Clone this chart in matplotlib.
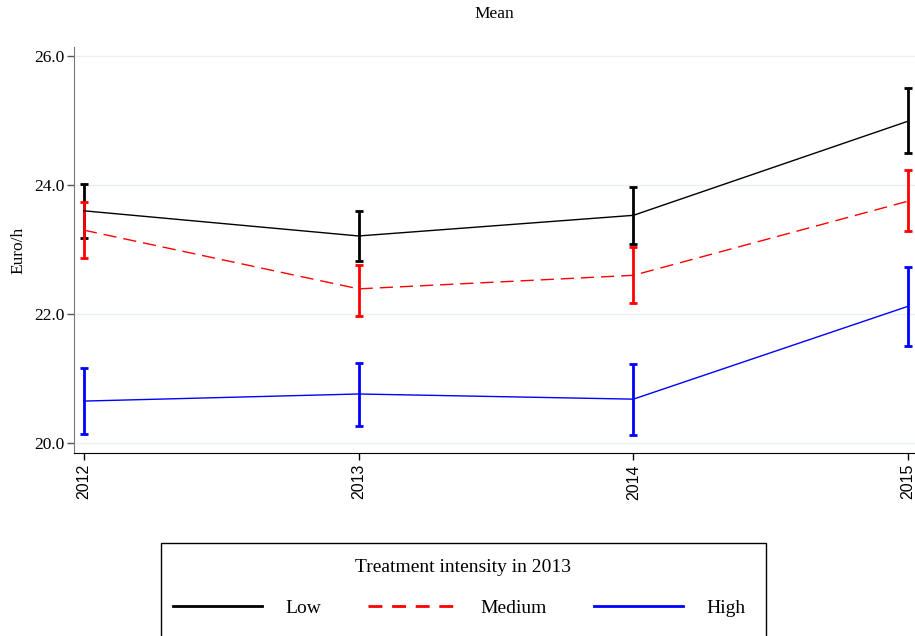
import matplotlib.pyplot as plt
from matplotlib.patches import Rectangle
from matplotlib.lines import Line2D
import numpy as np

years = [2012, 2013, 2014, 2015]

low_mean = [23.60, 23.21, 23.53, 24.99]
low_lo = [23.18, 22.82, 23.09, 24.50]
low_hi = [24.01, 23.60, 23.97, 25.50]

med_mean = [23.30, 22.39, 22.60, 23.75]
med_lo = [22.87, 21.97, 22.17, 23.29]
med_hi = [23.73, 22.76, 23.04, 24.23]

high_mean = [20.65, 20.76, 20.68, 22.12]
high_lo = [20.14, 20.26, 20.12, 21.50]
high_hi = [21.16, 21.24, 21.22, 22.73]

series = [
    ("Low", low_mean, low_lo, low_hi, "black", "-"),
    ("Medium", med_mean, med_lo, med_hi, "red", (0, (9.5, 5))),
    ("High", high_mean, high_lo, high_hi, "blue", "-"),
]

serif = "Liberation Serif"
W, H = 915, 636
fig = plt.figure(figsize=(W / 100, H / 100), dpi=100)
ax = fig.add_axes([74 / W, 1 - 453 / H, (915 - 74) / W, (453 - 47) / H])

for name, m, lo, hi, col, ls in series:
    m = np.array(m)
    yerr = [m - np.array(lo), np.array(hi) - m]
    ax.errorbar(years, m, yerr=yerr, fmt="none", ecolor=col, elinewidth=2,
                capsize=3, capthick=2, zorder=3)
    ax.plot(years, m, color=col, linestyle=ls, linewidth=1, zorder=4)

ax.set_xlim(2012 - 0.036, 2015 + 0.025)
ax.set_ylim(19.845, 26.14)
ax.set_yticks([20, 22, 24, 26])
ax.set_yticklabels(["20.0", "22.0", "24.0", "26.0"], fontfamily=serif, fontsize=12.5)
ax.set_xticks(years)
ax.set_xticklabels([str(y) for y in years], rotation=90, fontfamily="Liberation Sans",
                   fontsize=11.5)
ax.grid(axis="y", color="#eaf0f3", linewidth=1)
ax.set_axisbelow(True)
for s in ["top", "right"]:
    ax.spines[s].set_visible(False)
ax.spines["left"].set_color("#777777")
ax.spines["bottom"].set_color("black")
ax.tick_params(axis="y", length=5, width=1, color="#555555", pad=2)
ax.tick_params(axis="x", length=5, width=1, pad=3)

fig.text(18 / W, 1 - 250 / H, "Euro/h", rotation=90, ha="center", va="center",
         fontfamily=serif, fontsize=12.5)
fig.text(494 / W, 1 - 14 / H, "Mean", ha="center", va="center",
         fontfamily=serif, fontsize=12.5)

# legend box (cut off at the bottom like the original)
fig.patches.append(Rectangle((161 / W, -0.05), (766 - 161) / W, 1 - 543 / H + 0.05,
                             transform=fig.transFigure, fill=False,
                             edgecolor="black", linewidth=1))
fig.text(463 / W, 1 - 567 / H, "Treatment intensity in 2013", ha="center",
         va="center", fontfamily=serif, fontsize=14)
leg_styles = ["-", (0, (5, 3.5)), "-"]
handles = [Line2D([], [], color=s[4], linestyle=ls, linewidth=2)
           for s, ls in zip(series, leg_styles)]
fig.legend(handles, [s[0] for s in series], loc="center left",
           bbox_to_anchor=(155 / W, 1 - 608 / H), ncol=3, frameon=False,
           prop={"family": serif, "size": 14}, handlelength=4.6,
           handletextpad=1.2, columnspacing=2.4)

fig.savefig("out.png", dpi=100)
